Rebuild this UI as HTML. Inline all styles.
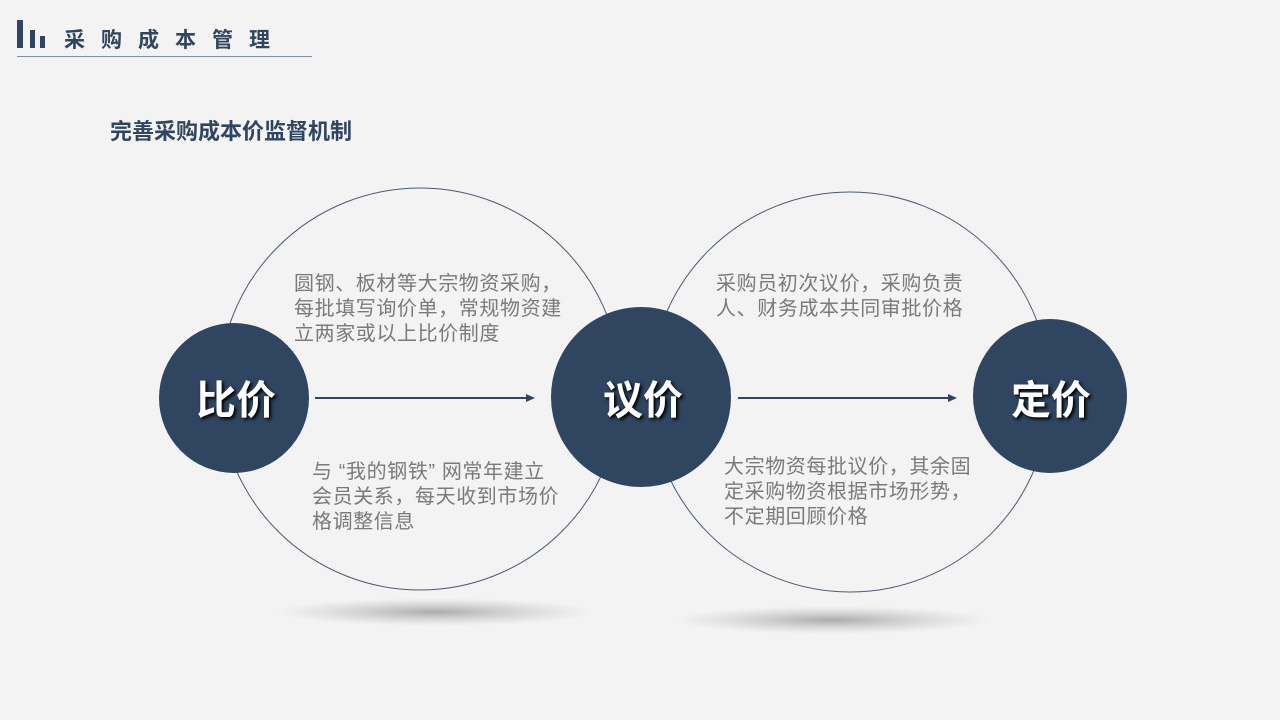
<!DOCTYPE html>
<html><head><meta charset="utf-8"><style>
body{margin:0;width:1280px;height:720px;overflow:hidden;background:#f3f3f3;font-family:"Liberation Sans","Noto Sans CJK SC",sans-serif;position:relative}
.a{position:absolute}
.t{color:#7a7a7a;font-size:20px;line-height:25px;letter-spacing:0.6px;white-space:nowrap}
</style></head><body>
<div class="a" style="left:17px;top:20px;width:6px;height:28px;background:#2f4560"></div>
<div class="a" style="left:30px;top:30px;width:5px;height:18px;background:#2f4560"></div>
<div class="a" style="left:40px;top:36px;width:5px;height:12px;background:#2f4560"></div>
<div class="a" style="left:64px;top:24px;font-size:21px;font-weight:bold;color:#2f4560;letter-spacing:16px">采购成本管理</div>
<div class="a" style="left:17px;top:56px;width:295px;height:1px;background:#8090a4"></div>
<div class="a" style="left:110px;top:114px;font-size:22px;font-weight:bold;color:#2f4560">完善采购成本价监督机制</div>
<svg class="a" style="left:0;top:0" width="1280" height="720">
<defs><radialGradient id="s"><stop offset="0" stop-color="#999" stop-opacity=".8"/><stop offset="1" stop-color="#bbb" stop-opacity="0"/></radialGradient></defs>
<ellipse cx="435" cy="612" rx="160" ry="14" fill="url(#s)"/>
<ellipse cx="832" cy="620" rx="160" ry="14" fill="url(#s)"/>
<circle cx="420" cy="389" r="201" fill="none" stroke="#4a5a70" stroke-width="1"/>
<circle cx="850" cy="392" r="200" fill="none" stroke="#4a5a70" stroke-width="1"/>
<circle cx="234" cy="398" r="75" fill="#2f4560"/>
<circle cx="641" cy="397" r="90" fill="#2f4560"/>
<circle cx="1050" cy="396" r="77" fill="#2f4560"/>
<line x1="315" y1="398" x2="528" y2="398" stroke="#2f4560" stroke-width="2"/>
<polygon points="535,398 526,394 526,402" fill="#2f4560"/>
<line x1="738" y1="398" x2="950" y2="398" stroke="#2f4560" stroke-width="2"/>
<polygon points="957,398 948,394 948,402" fill="#2f4560"/>
<g font-family="Liberation Sans,Noto Sans CJK SC,sans-serif" font-size="40" font-weight="bold" fill="#fff" text-anchor="middle" style="text-shadow:2px 2px 3px #000">
<text x="236" y="414">比价</text><text x="643" y="414">议价</text><text x="1051" y="414">定价</text></g>
</svg>
<div class="a t" style="left:294px;top:272px">圆钢、板材等大宗物资采购，<br>每批填写询价单，常规物资建<br>立两家或以上比价制度</div>
<div class="a t" style="left:312px;top:460px">与 “我的钢铁” 网常年建立<br>会员关系，每天收到市场价<br>格调整信息</div>
<div class="a t" style="left:716px;top:272px">采购员初次议价，采购负责<br>人、财务成本共同审批价格</div>
<div class="a t" style="left:724px;top:455px">大宗物资每批议价，其余固<br>定采购物资根据市场形势，<br>不定期回顾价格</div>
</body></html>
